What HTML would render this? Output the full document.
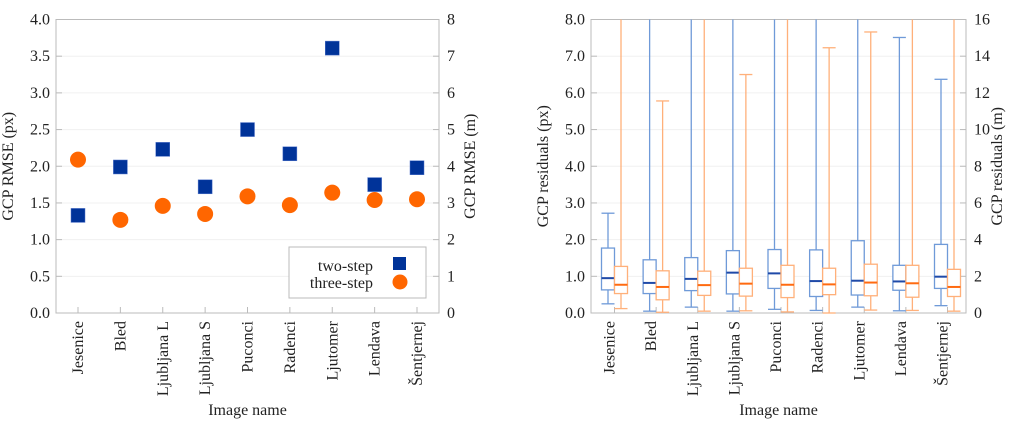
<!DOCTYPE html>
<html><head><meta charset="utf-8"><style>
body{margin:0;background:#fff}
svg{display:block}
text{font-family:"Liberation Serif","DejaVu Serif","Times New Roman",serif}
</style></head><body>
<svg id="s" width="1024" height="425"></svg>
<script>
const categories=["Jesenice","Bled","Ljubljana L","Ljubljana S","Puconci","Radenci","Ljutomer","Lendava","Šentjernej"];
const twoStep=[1.33,1.99,2.23,1.72,2.5,2.17,3.61,1.75,1.98];
const threeStep=[2.09,1.27,1.46,1.35,1.59,1.47,1.64,1.54,1.55];
const leftTicks=["0.0","0.5","1.0","1.5","2.0","2.5","3.0","3.5","4.0"];
const leftRightTicks=["0","1","2","3","4","5","6","7","8"];
const boxTicks=["0.0","1.0","2.0","3.0","4.0","5.0","6.0","7.0","8.0"];
const boxRightTicks=["0","2","4","6","8","10","12","14","16"];
// [low whisker, q1, median, q3, high whisker]
const twoBox=[[0.25,0.63,0.95,1.77,2.72],[0.05,0.53,0.82,1.45,9],[0.16,0.61,0.93,1.51,9],[0.05,0.52,1.1,1.7,9],[0.1,0.67,1.08,1.73,9],[0.07,0.45,0.87,1.72,9],[0.16,0.49,0.88,1.97,9],[0.06,0.62,0.86,1.3,7.51],[0.2,0.67,0.99,1.87,6.37]];
const threeBox=[[0.12,0.53,0.77,1.27,9],[0.02,0.36,0.71,1.15,5.78],[0.05,0.48,0.76,1.14,9],[0.06,0.46,0.8,1.22,6.5],[0.03,0.42,0.77,1.3,9],[0.0,0.5,0.78,1.22,7.23],[0.08,0.47,0.83,1.33,7.66],[0.07,0.43,0.81,1.3,9],[0.05,0.45,0.71,1.19,9]];

const S=document.getElementById('s');const NS='http://www.w3.org/2000/svg';
function mk(t,a,p){const e=document.createElementNS(NS,t);for(const k in a)e.setAttribute(k,a[k]);(p||S).appendChild(e);return e;}
function txt(x,y,s,a,p){const e=mk('text',Object.assign({x:x,y:y,'font-size':16,fill:'#222'},a),p);e.textContent=s;return e;}
const T=19.5,B=313;
function panel(L,R,ymax,ticks,rticks,ylabel,rlabel,name){
  const g=mk('g',{});
  const y=v=>B-(Math.min(v,ymax)/ymax)*(B-T);
  ticks.forEach((t,i)=>{const v=ymax*i/(ticks.length-1);const yy=y(v);
    if(i>0&&i<ticks.length-1)mk('line',{x1:L,x2:R,y1:yy,y2:yy,stroke:'#f0f0f0'},g);
    mk('line',{x1:L,x2:L+6,y1:yy,y2:yy,stroke:'#bbb'},g);mk('line',{x1:R-6,x2:R,y1:yy,y2:yy,stroke:'#bbb'},g);
    const e=txt(L-6,yy+5,t,{'text-anchor':'end'},g);
    const r=txt(R+8,yy+5,rticks[i],{},g);});
  mk('rect',{x:L,y:T,width:R-L,height:B-T,fill:'none',stroke:'#bbb'},g);
  const yl=txt(0,0,ylabel,{'text-anchor':'middle',transform:`translate(${L-43},${(T+B)/2}) rotate(-90)`},g);
  
  const rl=txt(0,0,rlabel,{'text-anchor':'middle',transform:`translate(${R+36},${(T+B)/2}) rotate(-90)`},g);
  
  const xl=txt((L+R)/2,415,'Image name',{'text-anchor':'middle'},g);
  
  return {g,y};
}
const L1=56,R1=439;const p1=panel(L1,R1,4,leftTicks,leftRightTicks,'GCP RMSE (px)','GCP RMSE (m)','rmse-chart');
const x1=i=>78+i*(417-78)/(categories.length-1);
categories.forEach((c,i)=>{const xx=x1(i);
  mk('line',{x1:xx,x2:xx,y1:B,y2:B-6,stroke:'#bbb'},p1.g);
  const e=txt(0,0,c,{'text-anchor':'end',transform:`translate(${xx+5},${B+8}) rotate(-90)`},p1.g);
  
  const sq=mk('rect',{x:xx-7,y:p1.y(twoStep[i])-7,width:14,height:14,fill:'#003399',stroke:'#5577cc','stroke-width':0.5},p1.g);
  
  const ci=mk('circle',{cx:xx,cy:p1.y(threeStep[i]),r:8,fill:'#ff6600'},p1.g);
  });
const lg=mk('g',{},p1.g);
mk('rect',{x:289,y:247,width:137,height:51,fill:'#fff',stroke:'#bbb'},lg);
txt(373,271,'two-step',{'text-anchor':'end'},lg);txt(373,288,'three-step',{'text-anchor':'end'},lg);
mk('rect',{x:393,y:257,width:13,height:13,fill:'#003399'},lg);mk('circle',{cx:400,cy:282,r:7.5,fill:'#ff6600'},lg);
const L2=591,R2=966;const p2=panel(L2,R2,8,boxTicks,boxRightTicks,'GCP residuals (px)','GCP residuals (m)','residuals-chart');
const x2=i=>614.5+i*(947.5-614.5)/(categories.length-1);
function box(xc,d,stroke,med,name){const y=p2.y;const bg=mk('g',{},p2.g);
  
  const w=6.5;
  mk('line',{x1:xc,x2:xc,y1:y(d[3]),y2:y(d[4]),stroke:stroke,'stroke-width':1.3},bg);
  mk('line',{x1:xc,x2:xc,y1:y(d[0]),y2:y(d[1]),stroke:stroke,'stroke-width':1.3},bg);
  if(d[4]<8)mk('line',{x1:xc-w,x2:xc+w,y1:y(d[4]),y2:y(d[4]),stroke:stroke,'stroke-width':1.3},bg);
  mk('line',{x1:xc-w,x2:xc+w,y1:y(d[0]),y2:y(d[0]),stroke:stroke,'stroke-width':1.3},bg);
  mk('rect',{x:xc-w,y:y(d[3]),width:2*w,height:y(d[1])-y(d[3]),fill:'#fff',stroke:stroke,'stroke-width':1.3},bg);
  mk('line',{x1:xc-w,x2:xc+w,y1:y(d[2]),y2:y(d[2]),stroke:med,'stroke-width':2},bg);}
categories.forEach((c,i)=>{const xx=x2(i);
  mk('line',{x1:xx,x2:xx,y1:B,y2:B-6,stroke:'#bbb'},p2.g);
  const e=txt(0,0,c,{'text-anchor':'end',transform:`translate(${xx},${B+8}) rotate(-90)`},p2.g);
  
  box(xx-6.5,twoBox[i],'#6f9ad8','#1f4aa8','two-step-box');
  box(xx+6.5,threeBox[i],'#ffb07a','#ff6a10','three-step-box');});
</script>
</body></html>
